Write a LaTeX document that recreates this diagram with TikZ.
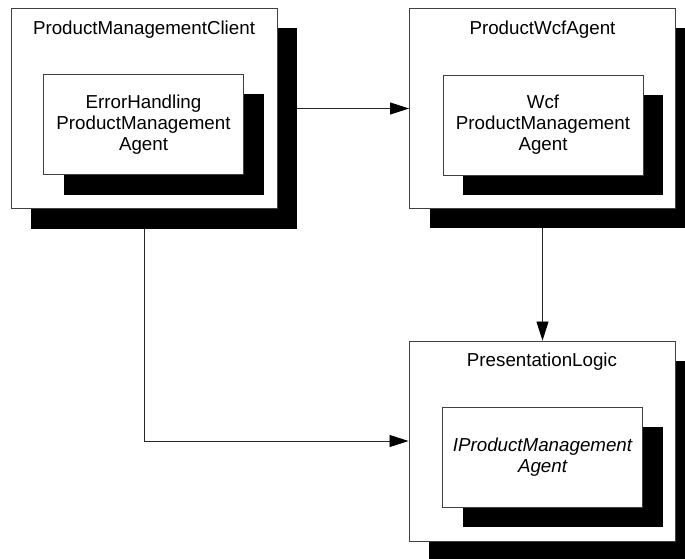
\documentclass[tikz,border=0pt]{standalone}
\usepackage{fontspec}
\setmainfont{Liberation Sans}
\usetikzlibrary{arrows.meta,shadows}
\begin{document}
\begin{tikzpicture}[x=1pt,y=-1pt,
  shadowed/.style={draw=black!75, line width=0.9pt, fill=white,
    general shadow={fill=black, shadow xshift=20pt, shadow yshift=-20pt}},
  outerbox/.style={shadowed, minimum width=266pt, minimum height=200pt, inner sep=0pt},
  innerbox/.style={shadowed, minimum width=200pt, minimum height=100pt, inner sep=0pt,
    align=center, font=\fontsize{18.75}{21}\selectfont},
  title/.style={font=\fontsize{18.75}{21}\selectfont, inner sep=0pt},
  conn/.style={draw=black!85, line width=0.8pt,
    -{Triangle[length=19pt,width=12pt,color=black,fill=black]}}]
\useasboundingbox (0,0) rectangle (685,559);
\clip (0,0) rectangle (685,559);
% boxes
\node[outerbox] (pmc) at (144,108.5) {};
\node[title] (pmcT) at (144,29.5) {ProductManagementClient};
\node[innerbox] (eh) at (143.5,124.5) {ErrorHandling\\ProductManagement\\Agent};
\node[outerbox] (wcf) at (542.5,108) {};
\node[title] (wcfT) at (542.5,29.5) {ProductWcfAgent};
\node[innerbox] (wpm) at (543,125) {Wcf\\ProductManagement\\Agent};
\node[outerbox] (pl) at (542,441) {};
\node[title] (plT) at (542,362) {PresentationLogic};
\node[innerbox, font=\fontsize{18.75}{21}\selectfont\itshape] (ipm) at (542.5,457) {IProductManagement\\Agent};
% connectors
\coordinate (pmcR) at ([xshift=20pt]pmc.east);
\coordinate (pmcB) at ([yshift=-20pt]pmc.south);
\coordinate (wcfB) at ([yshift=-20pt]wcf.south);
\draw[conn] (pmcR) -- (wcf.west |- pmcR);
\draw[conn] (wcfB) -- (wcfB |- pl.north);
\draw[conn] (pmcB) |- (pl.west);
\end{tikzpicture}
\end{document}
